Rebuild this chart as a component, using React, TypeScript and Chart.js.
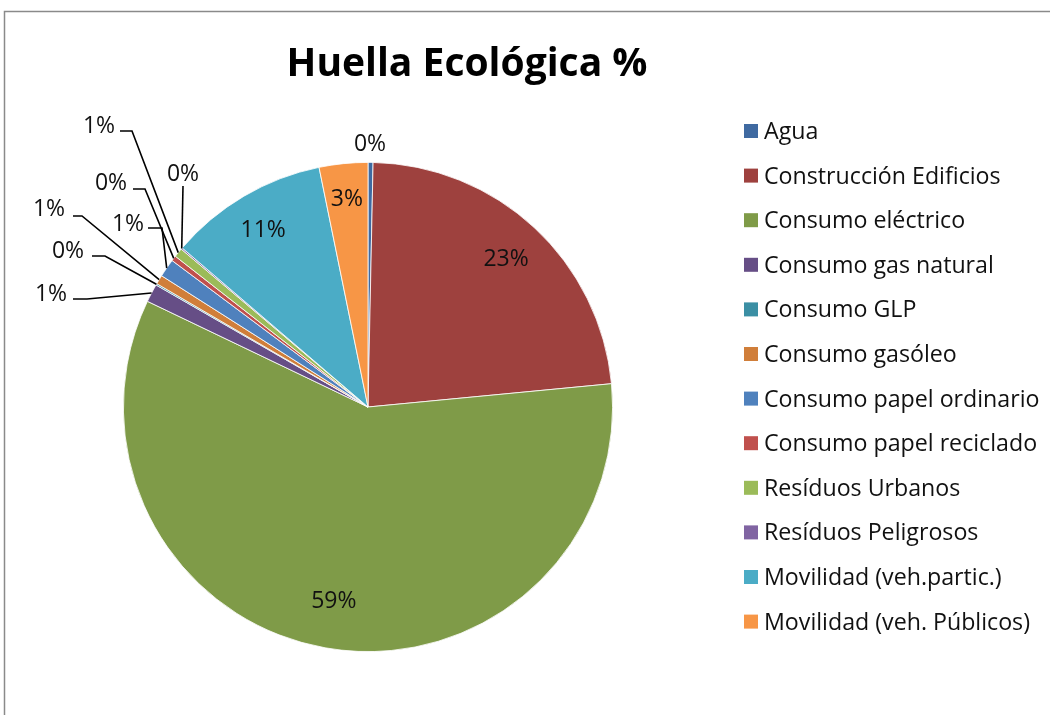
import React, { useEffect, useRef } from "react";
import { Chart, registerables } from "chart.js";

Chart.register(...registerables);

const chartTitle = "Huella Ecológica %";

const categories = [
  "Agua",
  "Construcción Edificios",
  "Consumo eléctrico",
  "Consumo gas natural",
  "Consumo GLP",
  "Consumo gasóleo",
  "Consumo papel ordinario",
  "Consumo papel reciclado",
  "Resíduos Urbanos",
  "Resíduos Peligrosos",
  "Movilidad (veh.partic.)",
  "Movilidad (veh. Públicos)",
];

const values = [0.33, 23.1, 58.5, 1.2, 0.1, 0.6, 1.2, 0.35, 0.6, 0.1, 10.5, 3.2];

const colors = [
  "#3F6AA1",
  "#9E413E",
  "#7F9B48",
  "#664E86",
  "#3B8FA4",
  "#D07E3A",
  "#4F81BD",
  "#C0504D",
  "#9BBB59",
  "#8064A2",
  "#4BACC6",
  "#F79646",
];

// Label layout (Excel-style placement): inside labels use a radius factor,
// outside labels use a text centre and a leader-line elbow.
type Placement =
  | { kind: "inside"; r: number }
  | { kind: "outside"; text: [number, number]; line?: [number, number][] };

const placements: Placement[] = [
  { kind: "outside", text: [370, 143] },
  { kind: "inside", r: 0.83 },
  { kind: "inside", r: 0.8 },
  { kind: "outside", text: [51, 293], line: [[73, 299], [87, 299]] },
  { kind: "outside", text: [68, 250], line: [[92, 256], [105, 256]] },
  { kind: "outside", text: [49, 208], line: [[73, 216], [82, 216]] },
  { kind: "outside", text: [128, 223], line: [[148, 228], [162, 228]] },
  { kind: "outside", text: [111, 182], line: [[133, 189], [145, 189]] },
  { kind: "outside", text: [99, 125], line: [[120, 131], [132, 131]] },
  { kind: "outside", text: [183, 173], line: [[183, 186]] },
  { kind: "inside", r: 0.845 },
  { kind: "inside", r: 0.86 },
];

const FONT = "'Open Sans', 'DejaVu Sans', sans-serif";
const TEXT = "#111111";

const overlayPlugin = {
  id: "excelOverlay",
  beforeDraw(chart: any) {
    const ctx = chart.ctx as CanvasRenderingContext2D;
    ctx.save();
    ctx.fillStyle = "#ffffff";
    ctx.fillRect(0, 0, chart.width, chart.height);
    // frame
    ctx.strokeStyle = "#8a8a8a";
    ctx.lineWidth = 1.5;
    ctx.beginPath();
    ctx.moveTo(4.5, chart.height);
    ctx.lineTo(4.5, 11.5);
    ctx.lineTo(chart.width, 11.5);
    ctx.stroke();
    ctx.restore();
  },
  afterDraw(chart: any) {
    const ctx = chart.ctx as CanvasRenderingContext2D;
    const meta = chart.getDatasetMeta(0);
    const data = chart.data.datasets[0].data as number[];
    const total = data.reduce((a: number, b: number) => a + b, 0);
    ctx.save();

    // title
    ctx.fillStyle = "#000";
    ctx.font = `bold 39px ${FONT}`;
    ctx.textAlign = "center";
    ctx.textBaseline = "alphabetic";
    ctx.fillText(chartTitle, 467, 76);

    // data labels
    ctx.font = `23px ${FONT}`;
    ctx.fillStyle = TEXT;
    meta.data.forEach((arc: any, i: number) => {
      const p = placements[i];
      const pct = Math.round((data[i] / total) * 100) + "%";
      const mid = (arc.startAngle + arc.endAngle) / 2;
      const R = arc.outerRadius;
      if (p.kind === "inside") {
        const x = arc.x + Math.cos(mid) * R * p.r;
        const y = arc.y + Math.sin(mid) * R * p.r;
        ctx.textAlign = "center";
        ctx.fillText(pct, x, y + 8);
      } else {
        ctx.textAlign = "center";
        ctx.fillText(pct, p.text[0], p.text[1] + 8);
        if (p.line) {
          const ex = arc.x + Math.cos(mid) * R;
          const ey = arc.y + Math.sin(mid) * R;
          ctx.strokeStyle = "#000";
          ctx.lineWidth = 1.6;
          ctx.beginPath();
          ctx.moveTo(p.line[0][0], p.line[0][1]);
          for (let k = 1; k < p.line.length; k++) ctx.lineTo(p.line[k][0], p.line[k][1]);
          ctx.lineTo(ex, ey);
          ctx.stroke();
        }
      }
    });

    // legend
    const lx = 744;
    const ly0 = 131;
    const step = 44.6;
    ctx.textAlign = "left";
    ctx.font = `23.2px ${FONT}`;
    categories.forEach((c, i) => {
      const cy = ly0 + i * step;
      ctx.fillStyle = colors[i];
      ctx.fillRect(lx, cy - 7, 14, 14);
      ctx.fillStyle = TEXT;
      ctx.fillText(c, 764, cy + 8);
    });
    ctx.restore();
  },
};

export default function App() {
  const ref = useRef<HTMLCanvasElement | null>(null);
  useEffect(() => {
    if (!ref.current) return;
    const chart = new Chart(ref.current, {
      type: "pie",
      data: {
        labels: categories,
        datasets: [
          {
            data: values,
            backgroundColor: colors,
            borderColor: "#ffffff",
            borderWidth: 0.8,
          },
        ],
      },
      options: {
        responsive: false,
        animation: false,
        layout: { padding: { left: 123, right: 437, top: 162, bottom: 63 } },
        plugins: {
          legend: { display: false },
          tooltip: { enabled: false },
          title: { display: false },
        },
      },
      plugins: [overlayPlugin],
    });
    return () => chart.destroy();
  }, []);
  return (
    <div style={{ position: "fixed", left: 0, top: 0, width: 1050, height: 715, background: "#fff" }}>
      <canvas ref={ref} width={1050} height={715} />
    </div>
  );
}
